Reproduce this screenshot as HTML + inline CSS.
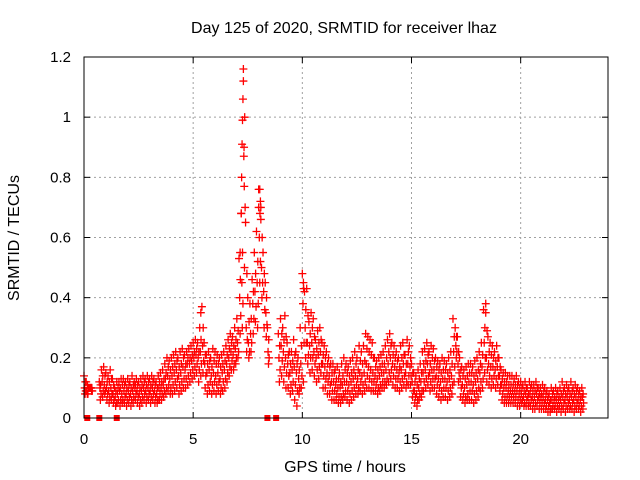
<!DOCTYPE html>
<html><head><meta charset="utf-8"><style>
body{margin:0;background:#fff}
svg{display:block;font-family:"Liberation Sans",sans-serif}
</style></head><body>
<svg id="chart" width="640" height="480">
<rect width="640" height="480" fill="#fff"/>
<text x="344" y="33" text-anchor="middle" font-size="16" fill="#000">Day 125 of 2020, SRMTID for receiver lhaz</text>
<text x="345" y="472" text-anchor="middle" font-size="16" fill="#000">GPS time / hours</text>
<text transform="translate(19,238) rotate(-90)" text-anchor="middle" font-size="16" fill="#000">SRMTID / TECUs</text>
<g id="grid"></g><g id="ticks"></g><g id="marks"></g>
<rect x="84" y="57" width="524" height="361" fill="none" stroke="#000" stroke-width="1"/>
</svg>
<script>
const xTicks=[0,5,10,15,20];
const yTicks=[0,0.2,0.4,0.6,0.8,1,1.2];
const yTickLabels=["0","0.2","0.4","0.6","0.8","1","1.2"];
const n=null;
const hiVals=[.14,.12,.10,.10,n,n,n,.12,.16,.17,
.15,.14,.16,.13,.10,.12,.12,.13,.13,.12,
.13,.12,.14,.12,.13,.12,.13,.14,.13,.14,
.13,.14,.13,.12,.14,.15,.16,.18,.20,.19,
.20,.21,.22,.20,.22,.23,.21,.22,.23,.24,
.25,.26,.25,.30,.37,.25,.21,.22,.20,.23,
.22,.21,.20,.21,.22,.24,.26,.28,.27,.30,
.33,.53,.68,1.16,.65,.40,.38,.46,.55,.62,
.76,.70,.55,.45,.30,n,n,n,n,.28,
.33,.30,.34,.25,.22,.22,.26,.22,.20,.30,
.48,.42,.43,.32,.35,.33,.26,.29,.30,.25,
.24,.22,.20,.18,.18,.16,.17,.15,.18,.20,
.18,.17,.19,.20,.22,.20,.24,.22,.24,.28,
.27,.26,.25,.20,.19,.20,.21,.22,.24,.26,
.28,.25,.24,.22,.20,.24,.25,.21,.26,.24,
.18,.15,.14,.16,.18,.22,.23,.25,.22,.24,
.23,.20,.19,.18,.20,.19,.18,.20,.22,.33,
.30,.27,.20,.17,.16,.17,.18,.18,.17,.19,
.20,.22,.25,.36,.38,.27,.25,.24,.22,.24,
.20,.16,.15,.15,.14,.14,.14,.13,.14,.12,
.12,.11,.12,.10,.12,.11,.11,.12,.10,.10,
.11,.10,.09,.08,.10,.09,.10,.09,.10,.12,
.10,.11,.10,.12,.10,.11,.10,.09,.10];
const upperVals=[.12,.11,.10,.10,n,n,n,.11,.14,.14,
.12,.12,.13,.11,.09,.10,.10,.11,.11,.10,
.11,.10,.11,.11,.11,.10,.11,.12,.11,.12,
.11,.12,.11,.10,.12,.12,.13,.15,.17,.16,
.17,.18,.19,.17,.18,.20,.18,.20,.20,.21,
.22,.23,.22,.26,.30,.21,.18,.19,.17,.19,
.18,.18,.17,.18,.19,.21,.23,.25,.24,.26,
.29,.46,.55,1.00,.48,.32,.33,.42,.48,.52,
.68,.60,.48,.40,.26,n,n,n,n,.24,
.28,.26,.27,.21,.18,.19,.21,.18,.16,.24,
.43,.36,.34,.28,.30,.27,.23,.25,.26,.21,
.20,.18,.17,.15,.15,.13,.13,.12,.14,.16,
.15,.14,.15,.16,.18,.16,.19,.18,.19,.23,
.22,.21,.20,.17,.16,.17,.18,.18,.20,.22,
.24,.21,.20,.19,.17,.20,.21,.18,.22,.20,
.15,.12,.11,.13,.15,.18,.19,.21,.18,.20,
.19,.17,.16,.15,.16,.16,.15,.16,.18,.27,
.27,.22,.16,.14,.13,.14,.15,.15,.14,.15,
.16,.18,.21,.30,.29,.22,.21,.20,.19,.20,
.17,.13,.12,.12,.11,.11,.11,.11,.11,.10,
.10,.09,.10,.08,.10,.09,.09,.10,.08,.08,
.09,.08,.07,.06,.08,.07,.08,.07,.08,.09,
.08,.09,.08,.09,.08,.09,.08,.07,.08];
const midVals=[.10,.09,.10,.10,n,n,n,.10,.12,.11,
.10,.09,.10,.08,.07,.08,.09,.08,.09,.08,
.09,.08,.09,.10,.09,.08,.09,.10,.09,.10,
.09,.10,.09,.08,.10,.10,.11,.13,.14,.13,
.14,.15,.16,.14,.15,.17,.16,.18,.18,.19,
.20,.21,.20,.22,.24,.18,.15,.16,.14,.15,
.14,.15,.13,.15,.16,.18,.20,.22,.21,.23,
.25,.40,.45,.90,.30,.25,.28,.38,.42,.45,
.60,.50,.42,.35,.22,n,n,n,n,.20,
.24,.22,.20,.18,.15,.16,.17,.15,.13,.18,
.38,.30,.25,.24,.25,.22,.20,.21,.22,.18,
.17,.15,.14,.12,.12,.11,.10,.10,.11,.12,
.12,.11,.12,.13,.14,.13,.15,.14,.15,.18,
.17,.16,.15,.14,.13,.14,.15,.15,.16,.18,
.20,.18,.17,.16,.15,.16,.18,.15,.18,.17,
.12,.09,.08,.10,.12,.15,.16,.18,.15,.16,
.16,.14,.13,.12,.13,.13,.12,.13,.14,.22,
.24,.18,.13,.11,.10,.11,.12,.12,.11,.12,
.13,.15,.17,.25,.20,.18,.17,.17,.16,.17,
.14,.11,.10,.10,.09,.09,.09,.09,.09,.08,
.08,.07,.08,.07,.08,.07,.07,.08,.07,.07,
.07,.06,.06,.05,.06,.06,.06,.06,.06,.07,
.06,.07,.06,.07,.06,.07,.06,.06,.07];
const lowerVals=[.09,.08,n,.09,n,n,n,.08,.09,.09,
.08,.07,.08,.06,.05,.06,.06,.06,.07,.06,
.07,.06,.07,.08,.07,.06,.07,.08,.07,.08,
.07,.08,.07,.06,.08,.08,.09,.10,.11,.10,
.11,.12,.13,.11,.12,.13,.13,.14,.15,.16,
.17,.18,.16,.18,.19,.14,.11,.12,.11,.12,
.11,.12,.10,.12,.13,.15,.17,.19,.18,.20,
.22,.34,.38,.70,.26,.22,.25,.33,.37,.38,
.52,.45,.36,.31,.20,n,n,n,n,.16,
.19,.17,.15,.14,.11,.12,.11,.09,.10,.14,
.25,.25,.21,.20,.20,.18,.16,.17,.18,.14,
.13,.12,.11,.09,.09,.08,.07,.07,.08,.09,
.09,.08,.09,.10,.11,.10,.12,.11,.12,.14,
.13,.12,.12,.11,.10,.11,.12,.12,.13,.15,
.16,.14,.13,.13,.12,.13,.14,.12,.14,.14,
.09,.07,.06,.08,.09,.12,.13,.14,.12,.13,
.13,.11,.10,.09,.10,.10,.09,.10,.11,.17,
.22,.15,.10,.08,.07,.08,.09,.09,.08,.09,
.10,.12,.13,.20,.16,.14,.13,.14,.13,.14,
.11,.08,.07,.07,.07,.07,.07,.07,.06,.06,
.06,.05,.06,.05,.06,.05,.05,.06,.05,.05,
.05,.04,.04,.03,.04,.04,.04,.04,.04,.05,
.04,.05,.04,.05,.04,.05,.04,.04,.05];
const loVals=[.08,.08,n,.09,n,n,n,.06,.07,.08,
.06,.05,.06,.05,.04,.05,.04,.05,.05,.04,
.05,.04,.05,.06,.05,.04,.05,.06,.05,.06,
.05,.06,.05,.05,.06,.06,.07,.08,.09,.08,
.08,.09,.10,.08,.09,.10,.10,.11,.12,.13,
.14,.15,.12,.14,.15,.10,.08,.09,.08,.09,
.08,.09,.08,.09,.10,.12,.14,.16,.16,.18,
.20,.28,.30,.50,.22,.20,.22,.28,.32,.30,
.45,.40,.30,.27,.18,n,n,n,n,.12,
.14,.12,.10,.10,.08,.09,.06,.04,.08,.10,
.12,.20,.18,.15,.16,.14,.12,.13,.15,.10,
.10,.08,.08,.06,.06,.06,.05,.05,.06,.07,
.06,.05,.06,.07,.08,.08,.09,.08,.09,.10,
.10,.09,.09,.09,.08,.09,.10,.10,.11,.12,
.13,.11,.10,.10,.09,.10,.11,.10,.11,.11,
.07,.05,.04,.06,.07,.09,.10,.11,.09,.10,
.10,.08,.07,.06,.07,.07,.06,.07,.08,.12,
.20,.12,.07,.06,.05,.06,.06,.06,.05,.06,
.07,.09,.10,.15,.12,.11,.10,.11,.10,.11,
.09,.06,.05,.05,.05,.05,.05,.05,.04,.04,
.05,.04,.04,.04,.04,.03,.03,.04,.03,.03,
.03,.03,.02,.02,.03,.03,.02,.03,.02,.03,
.02,.03,.03,.03,.02,.03,.03,.02,.03];
const spikeTimes=[7.15,7.2,7.22,7.24,7.26,7.28,7.3,7.32,7.34,8.0,8.05,8.08,8.1,5.35,10.05,18.4];
const spikeVals=[.55,.68,.80,.91,.99,1.06,1.12,.87,.77,.70,.76,.72,.66,.35,.45,.35];
const zeroTimes=[0.15,0.7,1.5,8.4,8.8];
const ns="http://www.w3.org/2000/svg";
const X=t=>84+t*(524/24);
const Y=v=>418-v*(361/1.2);
function mk(tag,a,p){const e=document.createElementNS(ns,tag);for(const k in a)e.setAttribute(k,a[k]);p.appendChild(e);return e;}
const grid=document.getElementById('grid'),ticks=document.getElementById('ticks'),marks=document.getElementById('marks');
xTicks.forEach(t=>{
 const x=X(t);
 if(t>0){const g=mk('line',{x1:x,x2:x,y1:57,y2:418,stroke:'#a0a0a0','stroke-dasharray':'2,3'},grid);
 
 }
 mk('line',{x1:x,x2:x,y1:418,y2:412,stroke:'#000'},ticks);
 mk('line',{x1:x,x2:x,y1:57,y2:63,stroke:'#000'},ticks);
 const l=mk('text',{x:x,y:444,'text-anchor':'middle','font-size':15},ticks);l.textContent=t;
 
 
});
yTicks.forEach((v,i)=>{
 const y=Y(v);
 if(v>0&&v<1.2){const g=mk('line',{x1:84,x2:608,y1:y,y2:y,stroke:'#a0a0a0','stroke-dasharray':'2,3'},grid);
 
 }
 mk('line',{x1:84,x2:90,y1:y,y2:y,stroke:'#000'},ticks);
 mk('line',{x1:602,x2:608,y1:y,y2:y,stroke:'#000'},ticks);
 const l=mk('text',{x:71,y:y+5,'text-anchor':'end','font-size':15},ticks);l.textContent=yTickLabels[i];
 
 
});
function cross(t,v){
 const x=X(t),y=Y(v);
 const p=mk('path',{d:`M${x-4},${y}h8M${x},${y-4}v8`,stroke:'#f00','stroke-width':1.3,fill:'none'},marks);
 
 
}
const seriesList=[hiVals,upperVals,midVals,lowerVals,loVals];
const offsets=[0,0.06,0.03,0.08,0.05];
seriesList.forEach((arr,k)=>arr.forEach((v,i)=>{if(v!==null)cross(i*0.1+offsets[k],v);}));
spikeTimes.forEach((t,i)=>cross(t,spikeVals[i]));
zeroTimes.forEach(t=>{
 const r=mk('rect',{x:X(t)-3,y:Y(0)-3,width:6,height:6,fill:'#f00'},marks);
 
 
});
</script>
</body></html>
